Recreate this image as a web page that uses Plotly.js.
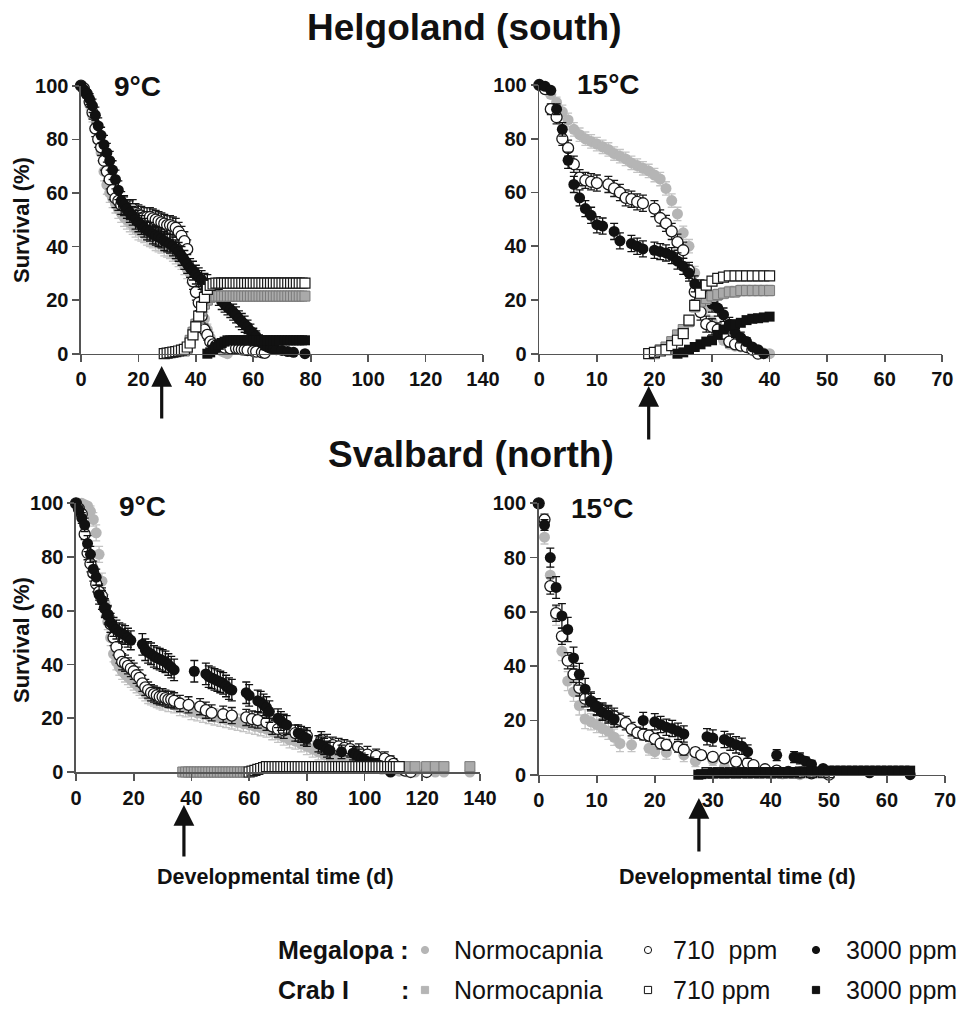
<!DOCTYPE html>
<html>
<head>
<meta charset="utf-8">
<script src="https://cdn.plot.ly/plotly-3.0.1.min.js"></script>
<style>html,body{margin:0;padding:0;background:#fff;}#chart{width:970px;height:1021px;}</style>
</head>
<body>
<div id="chart"></div>
<script>
// ---------- DATA: [day, survival %, SEM] ----------
// Helgoland (south), 9 °C
const A_megaNorm = [[0,100,0],[1,99,1],[2,97,1.5],[3,93,2],[4,89,2.5],[5,84,3],[6,80,3],[7,75,3],[8,68,3.5],[9,63,3.5],[10,60,3.5],[11,58,3.5],[12,56,3.5],[13,54,3.5],[14,52.5,3.5],[15,51,3.5],[16,50,3.5],[17,49,3.5],[18,48,3.5],[19,47,3.5],[20,46,3.5],[21,45.5,3.5],[22,45,3.5],[23,44,3.5],[24,43.5,3.5],[25,43,3.5],[26,42,3.5],[27,41.5,3.5],[28,41,3.5],[29,40,3.5],[30,39.5,3.5],[31,39,3.5],[32,38,3.5],[33,37,3.5],[34,36,3.5],[35,35,3.5],[36,33,3.5],[37,31.5,3.5],[38,30,3.5],[39,28,3],[40,26,3],[41,23,3],[42,18,3],[43,13,2.5],[44,9,2],[45,6,2],[46,4,1.5],[47,3,1],[48,2,1],[49,1,1],[50,0.5,0.5],[51,0,0]];
const A_mega710 = [[0,100,0],[1,99,1],[2,97,1.5],[3,94,2],[4,90,2.5],[5,84,3],[6,80,3],[7,77,3],[8,72,3.5],[9,68,3.5],[10,65,3.5],[11,61,3.5],[12,58,3.5],[13,57,3.5],[14,55.5,3.5],[15,55,3.5],[16,54,3.5],[17,53.5,3.5],[18,54,3.5],[19,52.5,3.5],[20,52,3.5],[21,51.5,3.5],[22,51,3.5],[23,51,3.5],[24,51,3.5],[25,50.5,3.5],[26,50,3.5],[27,49.5,3.5],[28,49,3.5],[29,48.5,3.5],[30,48,3.5],[31,48,3.5],[32,47.5,3.5],[33,47,3.5],[34,45.5,3.5],[35,44,3.5],[36,42,3.5],[37,39,3.5],[39,27,3],[40,23,3],[41,19,3],[42,14,2.5],[43,9,2],[44,7,2],[45,4.5,1.5],[46,3.5,1],[47,3,1],[48,2.6,1],[50,2.3,1],[52,2,1],[54,2,1],[55,1.8,1],[56,1.6,1],[57,1.5,1],[58,1.3,1],[60,1,0.8],[61,0.8,0.8],[63,0.5,0.5],[64,0.3,0.3]];
const A_mega3000 = [[0,100,0],[1,98.5,1],[2,97,1.5],[3,95,2],[4,92.5,2.5],[5,89,3],[6,85,3],[7,81.5,3],[8,78,3.5],[9,75,3.5],[10,72,3.5],[11,68.5,3.5],[12,65,3.5],[13,61,3.5],[14,57,3.5],[15,55.5,3.5],[16,54,3.5],[17,52.5,3.5],[18,51.5,3.5],[19,50,3.5],[20,49,3.5],[21,48,3.5],[22,47,3.5],[23,46,3.5],[24,45.5,3.5],[25,44.5,3.5],[26,44,3.5],[27,43.5,3.5],[28,43,3.5],[29,42,3.5],[30,41.5,3.5],[31,41,3.5],[32,40,3.5],[33,39,3.5],[34,38,3.5],[35,36.5,3.5],[36,35,3.5],[37,33.5,3.5],[38,32,3.5],[39,31,3.5],[40,29.5,3.5],[41,28.5,3.5],[42,27.5,3.5],[43,26.5,3.5],[44,26,3.5],[45,25,3],[46,24,3],[47,22.5,3],[48,21,3],[49,19.5,3],[50,18.5,3],[51,17.5,3],[52,16.5,3],[53,15.5,3],[54,14.5,3],[55,13,3],[56,12,3],[57,11,3],[58,10,2.5],[59,8.5,2.5],[60,7.5,2],[61,6.5,2],[62,5,2],[63,4,1.5],[64,3,1.5],[65,2.5,1],[66,2,1],[67,1.8,1],[68,1.5,1],[70,1.2,0.8],[72,0.8,0.5],[74,0.5,0.5],[78,0,0]];
const A_crabNorm = [[36,1,0.5],[37,2,1],[38,5,1.5],[39,8,2],[40,11,2],[41,13,2],[42,16,2],[43,18.5,2],[44,20,2],[45,21,1.5],[46,21.5,1.5],[47,21.5,1.5],[48,21.5,1.5],[49,21.5,1.5],[50,21.5,1.5],[51,21.5,1.5],[52,21.5,1.5],[53,21.5,1.5],[54,21.5,1.5],[55,21.5,1.5],[56,21.5,1.5],[57,21.5,1.5],[58,21.5,1.5],[59,21.5,1.5],[60,21.5,1.5],[61,21.5,1.5],[62,21.5,1.5],[63,21.5,1.5],[64,21.5,1.5],[65,21.5,1.5],[66,21.5,1.5],[67,21.5,1.5],[68,21.5,1.5],[69,21.5,1.5],[70,21.5,1.5],[71,21.5,1.5],[72,21.5,1.5],[73,21.5,1.5],[74,21.5,1.5],[75,21.5,1.5],[76,21.5,1.5],[77,21.5,1.5],[78,21.5,1.5]];
const A_crab710 = [[29,0,0.3],[30,0.2,0.3],[31,0.4,0.3],[32,0.6,0.4],[33,0.8,0.4],[34,1,0.5],[35,1.3,0.5],[36,1.6,0.6],[37,2.5,0.8],[38,4,1],[39,7,1.5],[40,10,2],[41,14,2],[42,17.5,2],[43,21,2],[44,24,1.5],[45,25.5,1.5],[46,26,1.2],[47,26.3,1.2],[48,26.3,1.2],[49,26.3,1.2],[50,26.3,1.2],[51,26.3,1.2],[52,26.3,1.2],[53,26.3,1.2],[54,26.3,1.2],[55,26.3,1.2],[56,26.3,1.2],[57,26.3,1.2],[58,26.3,1.2],[59,26.3,1.2],[60,26.3,1.2],[61,26.3,1.2],[62,26.3,1.2],[63,26.3,1.2],[64,26.3,1.2],[65,26.3,1.2],[66,26.3,1.2],[67,26.3,1.2],[68,26.3,1.2],[69,26.3,1.2],[70,26.3,1.2],[71,26.3,1.2],[72,26.3,1.2],[73,26.3,1.2],[74,26.3,1.2],[75,26.3,1.2],[76,26.3,1.2],[77,26.3,1.2],[78,26.3,1.2]];
const A_crab3000 = [[44,0,0.3],[45,0.5,0.4],[46,1.5,0.5],[47,2.5,0.6],[48,3.3,0.7],[49,4,0.8],[50,4.5,0.8],[51,5,0.8],[52,5,0.8],[53,5,0.8],[54,5,0.8],[55,5,0.8],[56,5,0.8],[57,5,0.8],[58,5,0.8],[59,5,0.8],[60,5,0.8],[61,5,0.8],[62,5,0.8],[63,5,0.8],[64,5,0.8],[65,5,0.8],[66,5,0.8],[67,5,0.8],[68,5,0.8],[69,5,0.8],[70,5,0.8],[71,5,0.8],[72,5,0.8],[73,5,0.8],[74,5,0.8],[75,5,0.8],[76,5,0.8],[77,5,0.8],[78,5,0.8]];

// Helgoland (south), 15 °C
const B_megaNorm = [[0,100,0],[1,99,1],[2,96.5,1.5],[3,93.5,2],[4,90,2.5],[5,87,2.5],[6,83.5,2.5],[7,81.5,2.5],[8,80,2.5],[9,79,2.5],[10,78,2.5],[11,77,2.5],[12,76,2.5],[13,74.5,2.5],[14,73.5,2.5],[15,72.5,2.5],[16,71,2.5],[17,70,2.5],[18,69,2.5],[19,68,2.5],[20,66.5,2.5],[21,65,2.5],[22,61.5,2.5],[23,57,2.5],[24,52,2.5],[25,45,2.5],[26,40,2.5],[27,30,2.5],[28,22,2.5],[29,17,2.5],[30,12,2],[31,8,2],[32,5,1.5],[33,3.5,1.5],[34,2.8,1],[35,2.5,1],[36,2.3,1],[37,1.5,1],[38,0.8,0.5],[39,0.3,0.3],[40,0,0]];
const B_mega710 = [[0,100,0],[1,98.5,1],[2,91,2],[3,88,2.5],[4,80,2.5],[5,76.5,3],[6,70.5,3],[7,65.5,3],[8,64.5,3],[9,64,3],[10,63.5,3],[12,63,3],[13,61.5,3],[14,60,3],[15,58,3],[16,57.5,3],[17,56.5,3],[18,56,3],[20,54,3],[21,50.5,3],[22,48.5,3],[23,45.5,3],[24,41.5,3],[25,38.5,3],[26,31,3],[27,23,3],[28,15.5,3],[29,11,3],[30,10,3],[31,9,2.5],[32,7.5,2],[33,4.5,2],[34,3.5,1.5],[35,3,1.5],[36,2.5,1],[37,1.5,1],[38,0,0]];
const B_mega3000 = [[0,100,0],[1,99.5,0.5],[2,98,1],[3,91,2],[4,83.5,2.5],[5,72,3],[6,63,3],[7,58,3],[8,54,3],[9,51.5,3],[10,48,3],[11,47.5,3],[13,45.5,3],[14,42,3],[16,41,3],[17,40,3],[18,39,3],[20,38.5,3],[21,38,3],[22,37.5,3],[23,36.5,3],[24,34.5,3],[25,32.5,3],[26,30,3],[27,26,3],[28,24.5,3],[29,22.5,3],[30,18.5,3],[31,17,3],[32,14.5,2.5],[33,11,2.5],[34,8,2],[35,6,2],[36,4.5,1.5],[37,2.5,1],[38,1.5,1],[39,0,0]];
const B_crabNorm = [[20,0,0.3],[21,1.5,0.5],[22,2.5,0.8],[23,4.5,1],[24,7,1.5],[25,9,1.5],[26,12,2],[27,17.5,2],[28,19.5,2],[29,20.5,2],[30,21.5,2],[31,22,2],[32,22.5,2],[33,23,2],[34,23,2],[35,23.5,2],[36,23.5,2],[37,23.5,2],[38,23.5,2],[39,23.5,2],[40,23.5,2]];
const B_crab710 = [[19,0,0.3],[20,0.5,0.4],[21,1,0.5],[22,1.5,0.6],[23,3,0.8],[24,5,1],[25,7.5,1.5],[26,12.5,1.5],[27,18,1.5],[28,22.5,1.5],[29,25.5,1.5],[30,27,1.2],[31,28,1.2],[32,28.5,1.2],[33,29,1.2],[34,29,1.2],[35,29,1.2],[36,29,1.2],[37,29,1.2],[38,29,1.2],[39,29,1.2],[40,29,1.2]];
const B_crab3000 = [[24,0,0.3],[25,0.5,0.4],[26,1.5,0.5],[27,2.5,0.6],[28,3.5,0.7],[29,4.5,0.8],[30,5,0.8],[31,7,1],[32,9,1],[33,10.5,1],[34,11,1],[35,11.5,1],[36,12.5,1],[37,13,1],[38,13.2,1],[39,13.5,1],[40,13.8,1]];

// Svalbard (north), 9 °C
const C_megaNorm = [[0,100,0],[1,100,0.5],[2,100,0.5],[3,99.5,1],[4,99,1.5],[5,97,2],[6,94,2.5],[7,89,3],[8,81,3],[9,71,3],[10,63,3],[11,56,3],[12,50,3],[13,44,3],[14,41,3],[15,39,3],[16,37.5,3],[17,36.5,3],[18,35.5,3],[19,34.5,3],[20,33.5,3],[21,32.5,3],[22,31.5,3],[23,30.5,3],[24,29.5,3],[25,28.5,3],[26,28,3],[27,27.5,3],[28,27,3],[29,26.5,3],[30,26,3],[32,25.5,3],[34,25,3],[36,24,3],[38,23.5,3],[40,22.5,3],[42,22,3],[44,21.5,3],[46,21,3],[48,20.5,3],[50,20,3],[52,19.5,3],[54,19,3],[56,18.5,3],[58,18,3],[60,17.5,3],[62,17,3],[64,16.5,3],[66,16,3],[68,15,3],[70,14,3],[72,13,3],[74,12,3],[76,11.5,3],[78,10.5,3],[80,9.5,3],[82,8.5,3],[84,7.5,3],[86,6.5,3],[88,5.5,2.5],[90,5,2.5],[92,4.5,2.5],[94,4,2],[96,3.5,2],[98,3,2],[100,2.5,2],[102,2,1.5],[104,1.5,1.5],[106,1,1],[108,0.8,1],[110,0.5,0.5],[112,0.3,0.3],[115,0,0],[117.5,0,0],[121.5,0,0],[124.5,0,0],[127.5,0,0],[136.5,0,0]];
const C_mega710 = [[0,100,0],[1,98,1],[2,96,1.5],[3,88.5,2],[4,81.5,2.5],[5,77.5,3],[6,74,3],[7,70,3],[8,67,3],[9,65.5,3],[10,61,3],[11,58.5,3],[12,55,3],[13,50,3],[14,46.5,3],[15,43.5,3],[16,41,3],[17,40.5,3],[18,39.5,3],[19,38.5,3],[20,37.5,3],[21,36,3],[22,35,3],[23,33,3],[24,31.5,3],[25,30.5,3],[26,29.5,3],[27,29,3],[28,28.5,3],[29,28,3],[30,28,3],[31,27.5,3],[32,27,3],[33,27,3],[34,26.5,3],[36,25.5,3],[39,25,3],[43,24.3,3],[45,23,3],[47,22,3],[51,21.5,3],[54,21,3],[59,20.3,3],[61,19.7,3],[63,19.3,3],[66,18.5,3],[68,17,3],[70,16,3],[72,15.5,3],[76,14.5,3],[80,13.5,3],[85,12,3],[87,11,3],[89,10,3],[91,9.5,3],[93,9,3],[95,8.5,3],[98,7.5,3],[101,6.5,3],[104,6,2.5],[107,5,2.5],[109,4,2],[110,3,2],[112,1.5,1.5],[114,0.5,0.5],[116,0,0],[121.5,0,0]];
const C_mega3000 = [[0,100,0],[1,97.5,1.5],[2,94.5,2],[3,92,2.5],[4,85,3],[5,81,3],[6,75.5,3],[7,72.5,3],[8,66,3.5],[9,64,3.5],[10,61,3.5],[11,58.5,3.5],[12,55.5,3.5],[13,54,3.5],[14,53,3.5],[15,52,3.5],[16,51.5,3.5],[17,51,3.5],[18,50,3.5],[19,49,3.5],[23,47.5,4],[24,45.5,4],[25,44.5,4],[26,44,4],[27,43,4],[28,42.5,4],[29,42,4],[30,41.5,4],[31,41,4],[32,40,4],[33,39,4],[34,38,4],[41,37.5,4],[45,36.5,4],[46,35.5,4],[47,35,4],[48,34.5,4],[49,34,4],[50,33.5,4],[51,33,4],[52,32,4],[53,31,4],[54,30.5,4],[59,29.5,4],[60,28.5,4],[63,26.5,4],[64,26,4],[65,25,4],[66,24,4],[67,22.5,4],[70,20,3.5],[71,19,3.5],[72,18,3.5],[73,17.5,3.5],[77,14.5,3],[78,14,3],[79,13,3],[80,12.5,3],[84,10.5,3],[85,10,3],[86,9.5,3],[87,8.5,3],[88,8,3],[92,7.5,2.5],[96,7,2.5],[97,6.5,2.5],[98,6,2.5],[99,5,2],[100,4.5,2],[102,3.5,2],[104,3,2],[105,2.5,1.5],[106,2,1.5],[109,0,0]];
const C_crabNorm = [[37,0,0.5],[38,0,0.5],[39,0,0.5],[40,0,0.5],[41,0,0.5],[42,0,0.5],[43,0,0.5],[44,0,0.5],[45,0,0.5],[46,0,0.5],[47,0,0.5],[48,0,0.5],[49,0,0.5],[50,0,0.5],[51,0,0.5],[52,0,0.5],[53,0,0.5],[54,0,0.5],[55,0,0.5],[56,0,0.5],[57,0,0.5],[58,0,0.5],[59,0,0.5],[114.5,2,0],[117.5,2,0],[121.5,2,0],[124.5,2,0],[127.5,2,0],[136.5,2,0]];
const C_crab710 = [[60,0,0.3],[61,0.3,0.3],[62,0.6,0.4],[63,1,0.5],[64,1.3,0.5],[65,1.6,0.6],[66,2,0.6],[67,2,0.6],[68,2,0.6],[69,2,0.6],[70,2,0.6],[71,2,0.6],[72,2,0.6],[73,2,0.6],[74,2,0.6],[75,2,0.6],[76,2,0.6],[77,2,0.6],[78,2,0.6],[79,2,0.6],[80,2,0.6],[81,2,0.6],[82,2,0.6],[83,2,0.6],[84,2,0.6],[85,2,0.6],[86,2,0.6],[87,2,0.6],[88,2,0.6],[89,2,0.6],[90,2,0.6],[91,2,0.6],[92,2,0.6],[93,2,0.6],[94,2,0.6],[95,2,0.6],[96,2,0.6],[97,2,0.6],[98,2,0.6],[99,2,0.6],[100,2,0.6],[101,2,0.6],[102,2,0.6],[103,2,0.6],[104,2,0.6],[105,2,0.6],[106,2,0.6],[107,2,0.6],[108,2,0.6],[109,2,0.6],[110,2,0.6],[111,2,0.6],[112,2,0.6]];
const C_crab3000 = [];

// Svalbard (north), 15 °C
const D_megaNorm = [[0,100,0],[1,87.5,2.5],[2,73.5,3],[3,58.5,3.5],[4,45.5,3.5],[5,34.5,3.5],[6,30.5,3.5],[7,25.5,3.5],[8,20.5,3.5],[9,19.5,3],[10,18.5,3],[11,17,3],[12,16,3],[13,13.8,3],[14,11.5,3],[16,11,2.5],[19,9.7,2.5],[20,8.5,2.5],[22,8.2,2.5],[25,7.3,2.5],[27,5,2],[30,5.4,2],[32,2.8,1.5],[34,2,1.5],[36,1.5,1],[38,1,1],[40,0.5,0.5],[42,0.3,0.3],[45,0,0],[50,0,0]];
const D_mega710 = [[0,100,0],[1,94,2],[2,69.5,3],[3,59.5,3],[4,51,3],[5,42,3],[6,37,3],[7,32,3],[8,28,3],[9,27,3],[10,25,3],[11,23.5,3],[12,22.5,3],[13,21.5,3],[14,20.2,2.5],[15,19,2.5],[16,16.8,2.5],[17,15.5,2],[18,14.8,2],[19,14.4,2],[20,13.2,2],[21,11.5,2],[22,11,2],[24,10.3,2],[25,9.2,2],[27,8.3,1.5],[28,7.2,1.5],[30,6.6,1.5],[32,6,1.5],[34,4.8,1.5],[36,4.3,1.5],[37,3.5,1],[39,2,1],[41,1.5,1],[43,1,0.8],[45,0.8,0.5],[47,0.5,0.5],[50,0,0]];
const D_mega3000 = [[0,100,0],[1,92,2],[2,80,3.5],[3,69,4],[4,58.5,4.5],[5,53.5,4.5],[6,43,4],[7,37,4],[8,31.5,4],[9,27,3.5],[10,25,3],[11,23,3],[12,22,3],[13,20.5,3],[18,20,3],[20,19.5,3],[21,18.5,3],[22,17.5,3],[23,17,3],[24,16,3],[25,15,3],[29,14,3],[30,13.5,3],[32,13,3],[33,12,3],[34,11,3],[35,10.5,3],[36,8.5,2.5],[41,7.2,2],[44,6.5,2],[45,6,2],[46,5,1.5],[47,3.8,1.5],[49,2.3,1],[57,0.7,0.5],[64,0,0]];
const D_crabNorm = [[30,0.5,0.3],[32,0.5,0.3],[34,0.5,0.3],[36,0.5,0.3],[38,0.5,0.3],[40,0.5,0.3],[42,0.5,0.3],[44,0.5,0.3]];
const D_crab710 = [[29,0.8,0.4],[31,0.8,0.4],[33,0.8,0.4],[35,0.8,0.4],[37,0.8,0.4],[39,0.8,0.4],[41,0.8,0.4],[43,0.8,0.4],[45,0.8,0.4],[47,0.8,0.4],[49,0.8,0.4],[50,0.8,0.4]];
const D_crab3000 = [[27.5,0,0.2],[28,0.2,0.3],[29,0.4,0.3],[30,0.6,0.3],[31,0.6,0.3],[32,0.6,0.3],[33,0.6,0.3],[34,0.6,0.3],[35,0.8,0.3],[36,0.8,0.3],[37,0.8,0.3],[38,0.8,0.3],[39,0.8,0.3],[40,1,0.4],[41,1,0.4],[42,1,0.4],[43,1,0.4],[44,1,0.4],[45,1.2,0.4],[46,1.2,0.4],[47,1.2,0.4],[48,1.2,0.4],[49,1.2,0.4],[50,1.5,0.4],[51,1.5,0.4],[52,1.5,0.4],[53,1.5,0.4],[54,1.5,0.4],[55,1.5,0.4],[56,1.5,0.4],[57,1.5,0.4],[58,1.5,0.4],[59,1.5,0.4],[60,1.5,0.4],[61,1.5,0.4],[62,1.5,0.4],[63,1.5,0.4],[64,1.5,0.4]];

// Labels
const panelTitles = ["Helgoland (south)", "Svalbard (north)"];
const tempLabels = ["9°C", "15°C", "9°C", "15°C"];
const yTitle = "Survival (%)";
const xTitle = "Developmental time (d)";
const arrowDays = [28.1, 19, 37.4, 27.6];
const legendRows = ["Megalopa :", "Crab I"];
const legendItems = ["Normocapnia", "710\u00a0\u00a0ppm", "3000 ppm"];
const legendItems2 = ["Normocapnia", "710 ppm", "3000 ppm"];

// ---------- STYLE ----------
const W = 970, H = 1021;
const fx = px => px / W;
const fy = py => 1 - py / H;
const FONT = '"Liberation Sans", Arial, sans-serif';
const GRAY = '#b5b5b5';

const styles = {
  megaNorm: {symbol:'circle', size:11, color:GRAY, line:{color:GRAY, width:0}, err:'#c4c4c4'},
  mega710:  {symbol:'circle', size:11, color:'#ffffff', line:{color:'#1a1a1a', width:1.3}, err:'#1a1a1a'},
  mega3000: {symbol:'circle', size:11, color:'#111111', line:{color:'#111111', width:0}, err:'#111111'},
  crabNorm: {symbol:'square', size:10, color:'#aaaaaa', line:{color:'#7a7a7a', width:1}, err:'#c4c4c4'},
  crab710:  {symbol:'square', size:10, color:'#ffffff', line:{color:'#1a1a1a', width:1.2}, err:'#1a1a1a'},
  crab3000: {symbol:'square', size:10, color:'#111111', line:{color:'#111111', width:0}, err:'#111111'}
};

function trace(series, key, ax) {
  const s = styles[key];
  return {
    type:'scatter', mode:'markers',
    x: series.map(r => r[0]), y: series.map(r => r[1]),
    xaxis: 'x' + ax, yaxis: 'y' + ax,
    cliponaxis:false, showlegend:false, hoverinfo:'x+y',
    marker: {symbol: s.symbol, size: s.size, color: s.color, line: s.line},
    error_y: {type:'data', array: series.map(r => r[2]), visible:true, color:s.err, thickness:1.3, width:4}
  };
}

const panels = [
  {ax:'', sets:{megaNorm:A_megaNorm, mega710:A_mega710, mega3000:A_mega3000, crabNorm:A_crabNorm, crab710:A_crab710, crab3000:A_crab3000}},
  {ax:'2', sets:{megaNorm:B_megaNorm, mega710:B_mega710, mega3000:B_mega3000, crabNorm:B_crabNorm, crab710:B_crab710, crab3000:B_crab3000}},
  {ax:'3', sets:{megaNorm:C_megaNorm, mega710:C_mega710, mega3000:C_mega3000, crabNorm:C_crabNorm, crab710:C_crab710, crab3000:C_crab3000}},
  {ax:'4', sets:{megaNorm:D_megaNorm, mega710:D_mega710, mega3000:D_mega3000, crabNorm:D_crabNorm, crab710:D_crab710, crab3000:D_crab3000}}
];
const order = ['megaNorm','mega710','mega3000','crabNorm','crab710','crab3000'];
const data = [];
panels.forEach(p => order.forEach(k => { if (p.sets[k].length) data.push(trace(p.sets[k], k, p.ax)); }));

const tickFont = {family:FONT, size:20, color:'#111', weight:'bold'};
function xa(domain, range, dtick, anchor) {
  return {domain, range, dtick, tick0:0, anchor, showline:true, linecolor:'#555', linewidth:1.6,
    ticks:'outside', ticklen:7, tickwidth:1.6, tickcolor:'#555', showgrid:false, zeroline:false,
    tickfont:tickFont, fixedrange:true};
}
function ya(domain, anchor) {
  return {domain, range:[0,100], dtick:20, tick0:0, anchor, showline:true, linecolor:'#555', linewidth:1.6,
    ticks:'outside', ticklen:7, tickwidth:1.6, tickcolor:'#555', showgrid:false, zeroline:false,
    tickfont:tickFont, fixedrange:true};
}

const ann = [];
function txt(text, px, py, size, opts) {
  ann.push(Object.assign({text, x:fx(px), y:fy(py), xref:'paper', yref:'paper', showarrow:false,
    font:{family:FONT, size, color:'#111'}, xanchor:'center', yanchor:'middle'}, opts || {}));
}
txt('<b>' + panelTitles[0] + '</b>', 464, 28, 37);
txt('<b>' + panelTitles[1] + '</b>', 471, 455, 37);
txt('<b>' + tempLabels[0] + '</b>', 137, 86, 28);
txt('<b>' + tempLabels[1] + '</b>', 608, 84, 28);
txt('<b>' + tempLabels[2] + '</b>', 142, 506, 28);
txt('<b>' + tempLabels[3] + '</b>', 602, 508, 28);
txt('<b>' + yTitle + '</b>', 21, 220, 22, {textangle:-90});
txt('<b>' + yTitle + '</b>', 21, 640, 22, {textangle:-90});
txt('<b>' + xTitle + '</b>', 275, 877, 21.5);
txt('<b>' + xTitle + '</b>', 737, 877, 21.5);

// arrows (tip at axis day value, pointing up)
const arrowSpec = [
  {xref:'x', tip:366, len:54},
  {xref:'x2', tip:386, len:55},
  {xref:'x3', tip:805, len:53},
  {xref:'x4', tip:798, len:55}
];
arrowSpec.forEach((a, i) => {
  ann.push({x:arrowDays[i], y:fy(a.tip), xref:a.xref, yref:'paper', text:'', showarrow:true,
    ax:0, ay:a.len, axref:'pixel', ayref:'pixel', arrowhead:2, arrowsize:1.3, arrowwidth:3.2,
    arrowcolor:'#111', standoff:0, startstandoff:0});
});

// legend (text + swatches)
const rowY = [950, 990];
const LF = {family:FONT, size:25, color:'#111'};
txt('<b>' + legendRows[0] + '</b>', 276, rowY[0], 25, {xanchor:'left', font:LF});
txt('<b>' + legendRows[1] + '</b>', 276, rowY[1], 25, {xanchor:'left', font:LF});
txt('<b>:</b>', 399, rowY[1], 25, {xanchor:'left', font:LF});
const itemX = [452, 671, 844];
[legendItems, legendItems2].forEach((items, r) => items.forEach((t, i) =>
  txt(t, itemX[i], rowY[r], 25, {xanchor:'left', font:LF})));

const shapes = [];
const swX = [425, 648, 816];
const swFill = [GRAY, '#ffffff', '#111'];
const swLine = [GRAY, '#111', '#111'];
swX.forEach((x, i) => {
  const r = 3.6;
  shapes.push({type:'circle', xref:'paper', yref:'paper', x0:fx(x-r), x1:fx(x+r), y0:fy(rowY[0]+r), y1:fy(rowY[0]-r),
    fillcolor:swFill[i], line:{color:swLine[i], width:1}});
  shapes.push({type:'rect', xref:'paper', yref:'paper', x0:fx(x-r), x1:fx(x+r), y0:fy(rowY[1]+r), y1:fy(rowY[1]-r),
    fillcolor:swFill[i], line:{color:swLine[i], width:1}});
});

const layout = {
  width:W, height:H, margin:{l:0, r:0, t:0, b:0}, paper_bgcolor:'#fff', plot_bgcolor:'rgba(0,0,0,0)',
  showlegend:false, font:{family:FONT},
  xaxis:  xa([fx(81), fx(483)], [0,140], 20, 'y'),
  yaxis:  ya([fy(353.7), fy(85.7)], 'x'),
  xaxis2: xa([fx(539.3), fx(942.3)], [0,70], 10, 'y2'),
  yaxis2: ya([fy(353.7), fy(85)], 'x2'),
  xaxis3: xa([fx(76), fx(480)], [0,140], 20, 'y3'),
  yaxis3: ya([fy(772), fy(503.3)], 'x3'),
  xaxis4: xa([fx(538.7), fx(945)], [0,70], 10, 'y4'),
  yaxis4: ya([fy(774.7), fy(503.3)], 'x4'),
  annotations: ann, shapes
};
Plotly.newPlot('chart', data, layout, {staticPlot:true, displayModeBar:false});
</script>
</body>
</html>
